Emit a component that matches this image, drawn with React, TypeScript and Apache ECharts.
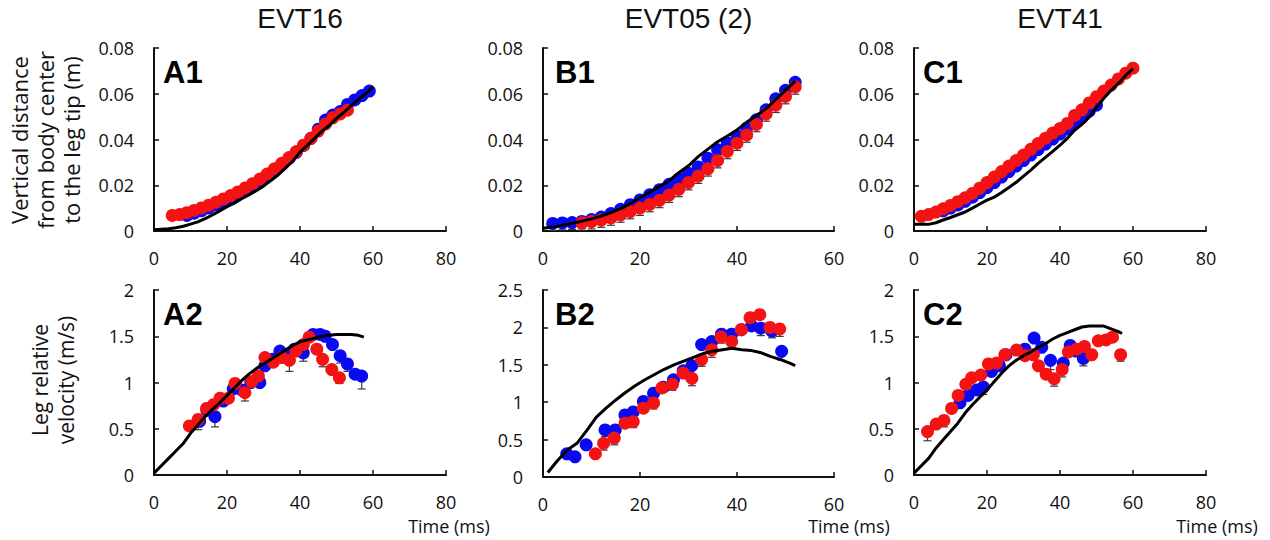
import React, { useEffect, useRef } from "react";
import * as echarts from "echarts";

// ---------- Row 1: vertical distance from body center to leg tip (m) ----------
const A1_blue: [number, number][] = [
  [9, 0.0068], [11, 0.0078], [13, 0.0089], [15, 0.0101], [17, 0.0114], [19, 0.0128],
  [21, 0.0143], [23, 0.016], [25, 0.0178], [27, 0.0198], [29, 0.0219], [31, 0.0242],
  [33, 0.0266], [35, 0.0291], [37, 0.0317], [39, 0.0344], [41, 0.0374], [43, 0.0405],
  [45, 0.0445], [47, 0.0485], [49, 0.0507], [51, 0.0522], [53, 0.0553], [55, 0.0573],
  [57, 0.0592], [59, 0.0612],
];
const A1_red: [number, number][] = [
  [5, 0.0068], [7, 0.0072], [9, 0.008], [11, 0.009], [13, 0.0101], [15, 0.0113],
  [17, 0.0126], [19, 0.014], [21, 0.0155], [23, 0.0171], [25, 0.0188], [27, 0.0207],
  [29, 0.0227], [31, 0.0249], [33, 0.0272], [35, 0.0296], [37, 0.0321], [39, 0.0347],
  [41, 0.0375], [43, 0.0405], [45, 0.0437], [47, 0.0468], [49, 0.0495], [51, 0.0512],
  [53, 0.0528],
];
const A1_model: [number, number][] = [
  [0, 0.0005], [2, 0.0008], [4, 0.001], [6, 0.0014], [8, 0.0021], [10, 0.003],
  [12, 0.004], [14, 0.0054], [16, 0.007], [18, 0.0088], [20, 0.0106], [22, 0.0122],
  [24, 0.0141], [26, 0.0158], [28, 0.0176], [30, 0.0196], [32, 0.022], [34, 0.0245],
  [36, 0.0275], [38, 0.0305], [40, 0.0345], [42, 0.0374], [44, 0.0405], [46, 0.0436],
  [48, 0.0462], [50, 0.0492], [52, 0.0518], [54, 0.0548], [56, 0.0574], [58, 0.06],
  [60, 0.063],
];

const B1_blue: [number, number][] = [
  [2, 0.0033], [4, 0.0035], [6, 0.0037], [8, 0.0042], [10, 0.005], [12, 0.0061],
  [14, 0.0076], [16, 0.0095], [18, 0.0115], [20, 0.0136], [22, 0.0158], [24, 0.018],
  [26, 0.0204], [28, 0.0228], [30, 0.0252], [32, 0.028], [34, 0.0318], [36, 0.0355],
  [38, 0.0385], [40, 0.0415], [42, 0.045], [44, 0.0486], [46, 0.053], [48, 0.0578],
  [50, 0.0615], [52, 0.065],
];
const B1_blue_err = [
  0.003, 0.003, 0.003, 0.003, 0.003, 0.003, 0.003, 0.003, 0.003, 0.003, 0.003, 0.003,
  0.003, 0.003, 0.003, 0.003, 0.003, 0.003, 0.003, 0.003, 0.003, 0.003, 0.003, 0.003,
  0.003, 0.003,
];
const B1_red: [number, number][] = [
  [8, 0.0036], [10, 0.0041], [12, 0.0048], [14, 0.0057], [16, 0.007], [18, 0.0085],
  [20, 0.01], [22, 0.0116], [24, 0.0134], [26, 0.0157], [28, 0.0182], [30, 0.0212],
  [32, 0.024], [34, 0.0272], [36, 0.0308], [38, 0.0348], [40, 0.0384], [42, 0.042],
  [44, 0.0466], [46, 0.0512], [48, 0.055], [50, 0.0588], [52, 0.063],
];
const B1_red_err = [
  0.0032, 0.0032, 0.0032, 0.0032, 0.0032, 0.0032, 0.0032, 0.0032, 0.0032, 0.0032,
  0.0032, 0.0032, 0.0032, 0.0032, 0.0032, 0.0032, 0.0032, 0.0032, 0.0032, 0.0032,
  0.0032, 0.0032, 0.0032,
];
const B1_model: [number, number][] = [
  [0, 0.0012], [2, 0.0017], [4, 0.0025], [6, 0.0034], [8, 0.0043], [10, 0.0053],
  [12, 0.0065], [14, 0.008], [16, 0.0098], [18, 0.012], [20, 0.0145], [22, 0.017],
  [24, 0.0195], [26, 0.022], [28, 0.0255], [30, 0.0285], [32, 0.0325], [34, 0.0358],
  [36, 0.039], [38, 0.0415], [40, 0.0442], [42, 0.0475], [44, 0.0505], [46, 0.0535],
  [48, 0.0575], [50, 0.0615], [52, 0.0655],
];

const C1_blue: [number, number][] = [
  [8, 0.0088], [10, 0.01], [12, 0.0114], [14, 0.013], [16, 0.0148], [18, 0.0168],
  [20, 0.019], [22, 0.0212], [24, 0.0236], [26, 0.026], [28, 0.0284], [30, 0.0308],
  [32, 0.0332], [34, 0.0356], [36, 0.038], [38, 0.0402], [40, 0.0424], [42, 0.0446],
  [44, 0.047], [46, 0.0496], [48, 0.0524], [50, 0.055],
];
const C1_red: [number, number][] = [
  [2, 0.0064], [4, 0.0072], [6, 0.0083], [8, 0.0097], [10, 0.0112], [12, 0.0128],
  [14, 0.0145], [16, 0.0164], [18, 0.0187], [20, 0.0212], [22, 0.0236], [24, 0.026],
  [26, 0.0284], [28, 0.0308], [30, 0.0332], [32, 0.0357], [34, 0.0382], [36, 0.0405],
  [38, 0.0428], [40, 0.0448], [42, 0.047], [44, 0.0505], [46, 0.053], [48, 0.056],
  [50, 0.0587], [52, 0.0612], [54, 0.0638], [56, 0.0665], [58, 0.069], [60, 0.0712],
];
const C1_model: [number, number][] = [
  [0, 0.0029], [2, 0.0029], [4, 0.0029], [6, 0.0036], [8, 0.0048], [10, 0.0059],
  [12, 0.0071], [14, 0.0083], [16, 0.01], [18, 0.0118], [20, 0.0135], [22, 0.0148],
  [24, 0.0168], [26, 0.019], [28, 0.0213], [30, 0.024], [32, 0.0266], [34, 0.0296],
  [36, 0.0322], [38, 0.0348], [40, 0.0375], [42, 0.0405], [44, 0.044], [46, 0.0466],
  [48, 0.0498], [50, 0.054], [52, 0.058], [54, 0.0615], [56, 0.0645], [58, 0.068],
  [60, 0.071],
];

// ---------- Row 2: leg relative velocity (m/s) ----------
const A2_blue: [number, number][] = [
  [12.5, 0.58], [14.5, 0.7], [16.7, 0.63], [19.0, 0.8], [21.7, 0.93], [24.0, 0.92],
  [26.5, 1.0], [29.0, 1.0], [30.4, 1.18], [32.5, 1.25], [34.5, 1.34], [36.5, 1.3],
  [38.5, 1.36], [40.9, 1.32], [43.6, 1.52], [45.5, 1.52], [46.9, 1.5], [48.9, 1.41],
  [51.0, 1.29], [53.0, 1.2], [55.1, 1.09], [56.9, 1.07],
];
const A2_blue_err = [
  0, 0, 0.11, 0, 0, 0, 0, 0, 0, 0, 0, 0, 0, 0.09, 0, 0, 0, 0, 0.08, 0.08, 0, 0.14,
];
const A2_red: [number, number][] = [
  [9.7, 0.53], [12.1, 0.6], [14.4, 0.72], [16.3, 0.76], [18.1, 0.83], [20.4, 0.83],
  [22.2, 0.99], [24.9, 0.89], [26.8, 1.01], [28.6, 1.07], [30.4, 1.27], [32.7, 1.22],
  [35.0, 1.27], [37.1, 1.24], [38.9, 1.34], [40.9, 1.41], [42.5, 1.49], [44.6, 1.36],
  [46.2, 1.25], [48.7, 1.14], [50.8, 1.05],
];
const A2_red_err = [
  0, 0.11, 0, 0, 0, 0, 0, 0.09, 0, 0, 0, 0, 0, 0.12, 0, 0, 0, 0, 0.08, 0, 0.06,
];
const A2_model: [number, number][] = [
  [0, 0.02], [2, 0.1], [4, 0.18], [6, 0.26], [8, 0.34], [10, 0.45], [12, 0.54],
  [14, 0.63], [16, 0.71], [18, 0.78], [20, 0.86], [22, 0.94], [24, 1.02], [26, 1.09],
  [28, 1.15], [30, 1.2], [32, 1.25], [34, 1.3], [36, 1.35], [38, 1.4], [40, 1.44],
  [42, 1.46], [44, 1.48], [46, 1.5], [48, 1.51], [50, 1.52], [52, 1.52], [54, 1.52],
  [56, 1.51], [57.5, 1.49],
];

const B2_blue: [number, number][] = [
  [4.9, 0.31], [6.6, 0.27], [8.9, 0.43], [12.8, 0.63], [14.9, 0.63], [16.9, 0.83],
  [18.6, 0.87], [20.7, 1.01], [22.8, 1.12], [24.8, 1.2], [26.9, 1.3], [28.9, 1.42],
  [30.7, 1.49], [32.7, 1.77], [34.8, 1.81], [36.8, 1.91], [38.9, 1.91], [40.9, 1.97],
  [43.0, 2.02], [44.9, 1.99], [47.2, 1.95], [49.2, 1.68],
];
const B2_blue_err = [
  0, 0, 0, 0.09, 0.08, 0, 0, 0, 0.08, 0, 0, 0, 0, 0, 0, 0, 0, 0, 0, 0.1, 0.09, 0.12,
];
const B2_red: [number, number][] = [
  [10.8, 0.31], [12.5, 0.45], [14.7, 0.52], [16.9, 0.72], [18.6, 0.74], [20.7, 0.92],
  [22.8, 0.99], [24.5, 1.19], [26.7, 1.24], [28.9, 1.39], [30.7, 1.32], [32.7, 1.57],
  [34.8, 1.7], [36.7, 1.87], [38.9, 1.81], [40.9, 1.97], [42.7, 2.13], [44.7, 2.17],
  [46.8, 2.0], [48.8, 1.98],
];
const B2_red_err = [
  0, 0.09, 0.09, 0, 0.08, 0, 0.08, 0, 0.08, 0, 0.1, 0.09, 0.1, 0.08, 0.09, 0, 0, 0, 0, 0.1,
];
const B2_model: [number, number][] = [
  [1, 0.06], [3, 0.22], [5, 0.36], [7, 0.45], [9, 0.62], [11, 0.8], [13, 0.92],
  [15, 1.03], [17, 1.13], [19, 1.22], [21, 1.3], [23, 1.37], [25, 1.44], [27, 1.5],
  [29, 1.55], [31, 1.6], [33, 1.65], [35, 1.68], [37, 1.7], [39, 1.72], [41, 1.7],
  [43, 1.69], [45, 1.66], [47, 1.61], [49, 1.57], [51, 1.52], [52, 1.49],
];

const C2_blue: [number, number][] = [
  [12.6, 0.78], [14.8, 0.86], [17.2, 0.92], [19.0, 0.95], [21.2, 1.12], [23.4, 1.18],
  [25.2, 1.3], [30.4, 1.36], [32.9, 1.48], [35.0, 1.38], [37.4, 1.24], [40.9, 1.21],
  [42.8, 1.4], [44.4, 1.34], [46.4, 1.26],
];
const C2_blue_err = [0, 0, 0, 0.08, 0, 0, 0, 0, 0, 0, 0.1, 0.1, 0, 0, 0.08];
const C2_red: [number, number][] = [
  [3.7, 0.47], [6.1, 0.55], [8.2, 0.59], [10.3, 0.72], [12.1, 0.86], [14.2, 0.98],
  [15.8, 1.05], [18.3, 1.08], [20.4, 1.2], [22.6, 1.21], [24.9, 1.3], [28.1, 1.35],
  [30.4, 1.29], [32.7, 1.3], [34.1, 1.18], [36.2, 1.09], [38.4, 1.04], [40.6, 1.14],
  [42.3, 1.33], [44.6, 1.36], [46.7, 1.39], [48.7, 1.3], [50.5, 1.45], [52.6, 1.46],
  [54.4, 1.49], [56.6, 1.3],
];
const C2_red_err = [
  0.1, 0, 0.07, 0, 0, 0, 0, 0, 0, 0, 0, 0, 0, 0, 0, 0, 0.08, 0.08, 0, 0, 0, 0, 0, 0, 0, 0.07,
];
const C2_model: [number, number][] = [
  [0, 0.02], [2, 0.1], [4, 0.18], [6, 0.29], [8, 0.38], [10, 0.47], [12, 0.56],
  [14, 0.67], [16, 0.76], [18, 0.84], [20, 0.92], [22, 1.01], [24, 1.1], [26, 1.18],
  [28, 1.24], [30, 1.29], [32, 1.33], [34, 1.38], [36, 1.42], [38, 1.47], [40, 1.51],
  [42, 1.54], [44, 1.57], [46, 1.6], [48, 1.61], [50, 1.61], [52, 1.61], [54, 1.58],
  [56, 1.55], [57, 1.53],
];

// Column titles, panel tags and axis names
const columnTitles = ["EVT16", "EVT05 (2)", "EVT41"];
const panelTags = ["A1", "B1", "C1", "A2", "B2", "C2"];
const rowNames = [
  "Vertical distance\nfrom body center\nto the leg tip (m)",
  "Leg relative\nvelocity (m/s)",
];
const timeLabel = "Time (ms)";

const BLUE = "#0a0af2";
const RED = "#f51212";
const TICK_FONT = '"Open Sans", sans-serif';
const TITLE_FONT = '"Liberation Sans", Arial, sans-serif';

type Panel = {
  grid: { left: number; top: number; width: number; height: number };
  xMax: number;
  yMax: number;
  yInterval: number;
  blue: [number, number][];
  red: [number, number][];
  model: [number, number][];
  blueErr?: number[];
  redErr?: number[];
};

const panels: Panel[] = [
  { grid: { left: 154, top: 48, width: 292, height: 183 }, xMax: 80, yMax: 0.08, yInterval: 0.02, blue: A1_blue, red: A1_red, model: A1_model },
  { grid: { left: 543, top: 48, width: 291, height: 183 }, xMax: 60, yMax: 0.08, yInterval: 0.02, blue: B1_blue, red: B1_red, model: B1_model, blueErr: B1_blue_err, redErr: B1_red_err },
  { grid: { left: 914, top: 48, width: 292, height: 183 }, xMax: 80, yMax: 0.08, yInterval: 0.02, blue: C1_blue, red: C1_red, model: C1_model },
  { grid: { left: 154, top: 290, width: 292, height: 185 }, xMax: 80, yMax: 2, yInterval: 0.5, blue: A2_blue, red: A2_red, model: A2_model, blueErr: A2_blue_err, redErr: A2_red_err },
  { grid: { left: 543, top: 290, width: 291, height: 187 }, xMax: 60, yMax: 2.5, yInterval: 0.5, blue: B2_blue, red: B2_red, model: B2_model, blueErr: B2_blue_err, redErr: B2_red_err },
  { grid: { left: 914, top: 290, width: 292, height: 185 }, xMax: 80, yMax: 2, yInterval: 0.5, blue: C2_blue, red: C2_red, model: C2_model, blueErr: C2_blue_err, redErr: C2_red_err },
];

// Downward error bar with a short cap
const renderErrorBar = (params: any, api: any) => {
  const x = api.value(0);
  const y = api.value(1);
  const e = api.value(2);
  if (!e) return null;
  const a = api.coord([x, y]);
  const b = api.coord([x, y - e]);
  const style = { stroke: "#3a3a3a", lineWidth: 1.2 };
  return {
    type: "group",
    children: [
      { type: "line", shape: { x1: a[0], y1: a[1], x2: b[0], y2: b[1] }, style },
      { type: "line", shape: { x1: b[0] - 4, y1: b[1], x2: b[0] + 4, y2: b[1] }, style },
    ],
  };
};

const axisCommon = {
  axisLine: { show: true, onZero: false, lineStyle: { color: "#111", width: 2 } },
  axisTick: { show: true, inside: true, length: 5, lineStyle: { color: "#111", width: 1.5 } },
  splitLine: { show: false },
};

function buildOption() {
  const grid: any[] = [];
  const xAxis: any[] = [];
  const yAxis: any[] = [];
  const series: any[] = [];

  panels.forEach((p, i) => {
    grid.push({ ...p.grid, containLabel: false });
    xAxis.push({
      type: "value",
      gridIndex: i,
      min: 0,
      max: p.xMax,
      interval: 20,
      ...axisCommon,
      axisLabel: { fontFamily: TICK_FONT, fontSize: 18, color: "#111", margin: 18 },
    });
    yAxis.push({
      type: "value",
      gridIndex: i,
      min: 0,
      max: p.yMax,
      interval: p.yInterval,
      ...axisCommon,
      axisLabel: { fontFamily: TICK_FONT, fontSize: 18, color: "#111", margin: 20 },
    });

    const errData = (pts: [number, number][], err?: number[]) =>
      err ? pts.map((d, k) => [d[0], d[1], err[k] || 0]) : [];

    if (p.blueErr) {
      series.push({
        type: "custom",
        xAxisIndex: i,
        yAxisIndex: i,
        renderItem: renderErrorBar,
        encode: { x: 0, y: 1 },
        data: errData(p.blue, p.blueErr),
        z: 1,
        silent: true,
      });
    }
    if (p.redErr) {
      series.push({
        type: "custom",
        xAxisIndex: i,
        yAxisIndex: i,
        renderItem: renderErrorBar,
        encode: { x: 0, y: 1 },
        data: errData(p.red, p.redErr),
        z: 1,
        silent: true,
      });
    }
    series.push({
      type: "scatter",
      xAxisIndex: i,
      yAxisIndex: i,
      data: p.blue,
      symbol: "circle",
      symbolSize: 13,
      itemStyle: { color: BLUE, opacity: 1 },
      z: 2,
    });
    series.push({
      type: "scatter",
      xAxisIndex: i,
      yAxisIndex: i,
      data: p.red,
      symbol: "circle",
      symbolSize: 13,
      itemStyle: { color: RED, opacity: 1 },
      z: 3,
    });
    series.push({
      type: "line",
      xAxisIndex: i,
      yAxisIndex: i,
      data: p.model,
      showSymbol: false,
      symbol: "none",
      lineStyle: { color: "#000", width: 3 },
      z: 4,
    });
  });

  const graphic: any[] = [];
  // Column titles centred over each column
  [0, 1, 2].forEach((c) => {
    const g = panels[c].grid;
    graphic.push({
      type: "text",
      x: g.left + g.width / 2,
      y: 18,
      style: {
        text: columnTitles[c],
        fontFamily: TITLE_FONT,
        fontSize: 28,
        fill: "#111",
        textAlign: "center",
        textVerticalAlign: "middle",
      },
    });
  });
  // Panel tags in the upper-left corner of each plot
  panels.forEach((p, i) => {
    graphic.push({
      type: "text",
      x: p.grid.left + (i % 3 === 1 ? 12 : 9),
      y: i < 3 ? 72 : 314,
      style: {
        text: panelTags[i],
        fontFamily: TITLE_FONT,
        fontWeight: "bold",
        fontSize: 31,
        fill: "#000",
        textAlign: "left",
        textVerticalAlign: "middle",
      },
    });
  });
  // Row axis names, rotated
  graphic.push({
    type: "text",
    x: 45,
    y: 140,
    rotation: Math.PI / 2,
    style: {
      text: rowNames[0],
      fontFamily: TICK_FONT,
      fontSize: 22,
      lineHeight: 26,
      fill: "#111",
      textAlign: "center",
      textVerticalAlign: "middle",
    },
  });
  graphic.push({
    type: "text",
    x: 53,
    y: 380,
    rotation: Math.PI / 2,
    style: {
      text: rowNames[1],
      fontFamily: TICK_FONT,
      fontSize: 21,
      lineHeight: 26,
      fill: "#111",
      textAlign: "center",
      textVerticalAlign: "middle",
    },
  });
  // Time labels under the bottom row
  [449, 849, 1217].forEach((cx) => {
    graphic.push({
      type: "text",
      x: cx,
      y: 526,
      style: {
        text: timeLabel,
        fontFamily: TICK_FONT,
        fontSize: 18,
        fill: "#111",
        textAlign: "center",
        textVerticalAlign: "middle",
      },
    });
  });

  return {
    animation: false,
    backgroundColor: "#ffffff",
    grid,
    xAxis,
    yAxis,
    series,
    graphic,
  };
}

export default function App() {
  const ref = useRef<HTMLDivElement>(null);
  useEffect(() => {
    if (!ref.current) return;
    const chart = echarts.init(ref.current, undefined, { renderer: "svg" });
    chart.setOption(buildOption() as any);
    return () => chart.dispose();
  }, []);
  return (
    <div
      ref={ref}
      style={{ position: "fixed", left: 0, top: 0, width: 1270, height: 540, background: "#fff" }}
    />
  );
}
